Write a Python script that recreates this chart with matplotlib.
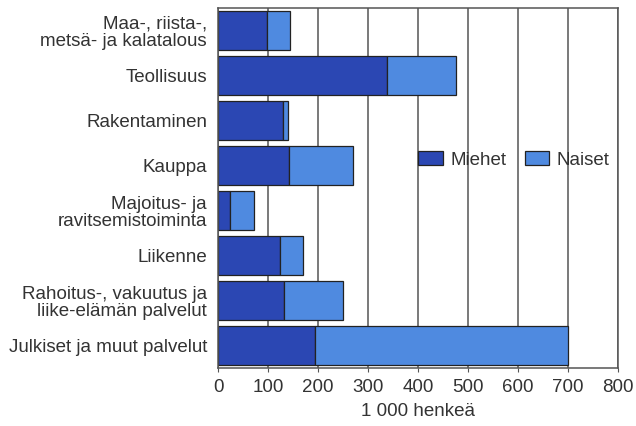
import matplotlib.pyplot as plt
import matplotlib.font_manager as fm
import numpy as np

# fonts: condensed look if available
names = set(f.name for f in fm.fontManager.ttflist)
fam = ['Liberation Sans Narrow', 'DejaVu Sans'] if 'Liberation Sans Narrow' in names else ['Liberation Sans', 'DejaVu Sans']
plt.rcParams['font.family'] = fam

categories = ["Maa-, riista-,\nmetsä- ja kalatalous", "Teollisuus", "Rakentaminen", "Kauppa",
              "Majoitus- ja\nravitsemistoiminta", "Liikenne",
              "Rahoitus-, vakuutus ja\nliike-elämän palvelut", "Julkiset ja muut palvelut"]
miehet = [98, 337, 130, 142, 23, 123, 132, 193]
naiset = [46, 138, 10, 128, 48, 46, 118, 506]
xticks = [0, 100, 200, 300, 400, 500, 600, 700, 800]

dark = '#2b47b3'
light = '#4f8ae0'

fig = plt.figure(figsize=(6.36, 4.26), dpi=100)
ax = fig.add_axes([0.343, 0.136, 0.629, 0.845])

y = np.arange(len(categories))
ax.set_axisbelow(True)
ax.grid(axis='x', color='#555555', linewidth=1.1)
ax.barh(y, miehet, height=0.85, color=dark, edgecolor='#222222', linewidth=0.9, label='Miehet')
ax.barh(y, naiset, left=miehet, height=0.85, color=light, edgecolor='#222222', linewidth=0.9, label='Naiset')

ax.set_xlim(0, 800)
ax.set_ylim(7.5, -0.5)
ax.set_xticks(xticks)
ax.set_xticklabels([str(t) for t in xticks], fontsize=13.5, color='#333333')
ax.set_yticks(y)
ax.set_yticklabels(categories, fontsize=13.5, color='#333333', linespacing=1.0)
ax.tick_params(axis='y', length=0, pad=8)
ax.tick_params(axis='x', length=3, color='#555555', pad=5)
ax.set_xlabel('1 000 henkeä', fontsize=13.5, color='#333333', labelpad=5)
for s in ax.spines.values():
    s.set_color('#555555')
    s.set_linewidth(1.1)

ax.legend(loc='center', bbox_to_anchor=(0.74, 0.578), ncol=2, frameon=False, fontsize=13.5,
          handlelength=1.3, handleheight=0.7, columnspacing=1.0, handletextpad=0.4,
          labelcolor='#333333')

fig.savefig('out.png', dpi=100)
